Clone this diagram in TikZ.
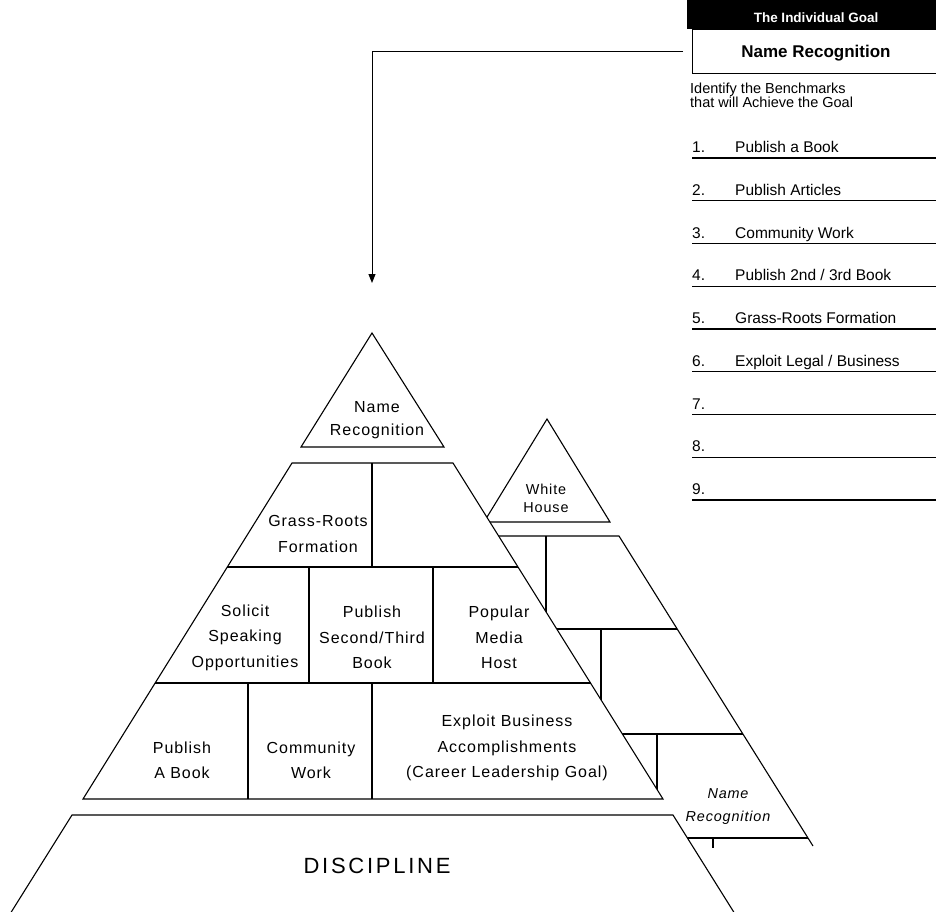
\documentclass[tikz,border=0pt]{standalone}
\usepackage{fontspec}
\setmainfont{Liberation Sans}
\newfontfamily\trackedfont[LetterSpace=6]{Liberation Sans}
\newfontfamily\widefont[LetterSpace=12.5]{Liberation Sans}
\usetikzlibrary{arrows.meta}

\begin{document}
\begin{tikzpicture}[x=1pt,y=-1pt,
  edge/.style={line width=1.1pt, line join=miter},
  cell/.style={font=\trackedfont\fontsize{16}{25.5}\selectfont, align=center, inner sep=0pt},
  backcell/.style={font=\trackedfont\fontsize{14.4}{18}\selectfont, align=center, inner sep=0pt},
  item/.style={font=\fontsize{15.5}{18}\selectfont, anchor=base west, inner sep=0pt},
  rule/.style={line width=1.2pt},
]
\useasboundingbox (0,0) rectangle (936,911);

% ---------- rear pyramid (mirrored, smaller) ----------
\begin{scope}
  \clip (0,0) rectangle (936,847);
  \draw[edge] (547,419) -- (610,522) -- (484,522) -- cycle;
  \draw[edge] (475,536) -- (619,536) -- (813,846);
  \draw[edge] (546,536) -- (546,629);
  \draw[edge] (500,629) -- (677,629);
  \draw[edge] (601,629) -- (601,734);
  \draw[edge] (560,734) -- (743,734);
  \draw[edge] (657,734) -- (657,838);
  \draw[edge] (620,838) -- (808,838);
  \draw[edge] (713,838) -- (713,850);
  \node[backcell] (whitehouse) at (546,498) {White\\House};
  \node[backcell, font=\trackedfont\itshape\fontsize{14.4}{23}\selectfont] (rearname) at (728,806.5) {Name\\Recognition};
\end{scope}

% ---------- front pyramid hides the rear one ----------
\fill[white] (292,463) -- (453,463) -- (663,799) -- (673,815) -- (740,922)
  -- (5,922) -- (72,815) -- (83,799) -- cycle;

% apex
\draw[edge] (372,333) -- (444,447) -- (301,447) -- cycle;
\node[cell, font=\trackedfont\fontsize{16}{23}\selectfont] (apex) at (377,420) {Name\\Recognition};

% tiers
\draw[edge] (292,463) -- (453,463) -- (663,799) -- (83,799) -- cycle;
\draw[edge] (227.3,567) -- (518,567);
\draw[edge] (155.2,683) -- (590.5,683);
\draw[edge] (372,463) -- (372,567);
\draw[edge] (309,567) -- (309,683);
\draw[edge] (433,567) -- (433,683);
\draw[edge] (248,683) -- (248,799);
\draw[edge] (372,683) -- (372,799);

\node[cell] (grassroots) at (318,534) {Grass-Roots\\Formation};
\node[cell] (solicit) at (245,637.5) {Solicit\\Speaking\\Opportunities};
\node[cell] (second) at (372,637.5) {Publish\\Second/Third\\Book};
\node[cell] (media) at (499,637.5) {Popular\\Media\\Host};
\node[cell] (book) at (182,760.5) {Publish\\A Book};
\node[cell] (community) at (311,760.5) {Community\\Work};
\node[cell] (exploit) at (507,748) {Exploit Business\\Accomplishments\\(Career Leadership Goal)};

% foundation
\draw[edge] (5,922) -- (72,815) -- (673,815) -- (740,922);
\node[anchor=base, inner sep=0pt, font=\widefont\fontsize{22}{26}\selectfont] (discipline) at (377,873) {DISCIPLINE};

% ---------- goal panel ----------
\fill (687,-2) rectangle (940,29);
\node[anchor=base, inner sep=0pt, text=white, font=\bfseries\fontsize{13.5}{16}\selectfont] (goaltitle) at (816,22) {The Individual Goal};
\node[draw, line width=1pt, anchor=north west, minimum width=260pt, minimum height=44pt, inner sep=0pt] (goalbox) at (692,29) {};
\node[anchor=base, inner sep=0pt, font=\bfseries\fontsize{17}{20}\selectfont] (goalname) at (816,57) {Name Recognition};
\node[anchor=north west, align=left, inner sep=0pt, font=\fontsize{14.5}{14.3}\selectfont] (identify) at (690,82.5) {Identify the Benchmarks\\that will Achieve the Goal};

\foreach \i in {1,...,9}{
  \pgfmathsetmacro\ly{158+42.75*(\i-1)}
  \draw[rule] (692,\ly) -- (936,\ly);
  \node[item] (num\i) at (692,\ly-5.5) {\i.};
}
\foreach \i/\t in {1/{Publish a Book}, 2/{Publish Articles}, 3/{Community Work},
                   4/{Publish 2nd / 3rd Book}, 5/{Grass-Roots Formation},
                   6/{Exploit Legal / Business}}{
  \pgfmathsetmacro\ly{158+42.75*(\i-1)}
  \node[item] (bench\i) at (735,\ly-5.5) {\t};
}

% link from the goal to the pyramid top
\coordinate (drop) at (372,283);
\draw[line width=1pt, -{Triangle[length=9pt,width=7pt]}] ([xshift=-9pt]goalbox.west) -| (drop);
\end{tikzpicture}
\end{document}
